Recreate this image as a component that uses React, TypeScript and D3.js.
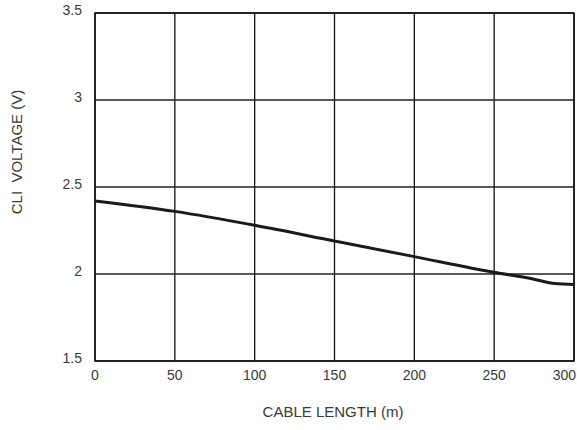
import * as d3 from 'd3';

const X_TICKS = [0, 50, 100, 150, 200, 250, 300];
const Y_TICKS = [1.5, 2, 2.5, 3, 3.5];
const LENGTH_M = [0, 50, 100, 150, 200, 250, 275, 288, 300];
const CLI_VOLTAGE = [2.42, 2.36, 2.28, 2.19, 2.1, 2.01, 1.97, 1.945, 1.94];

const WIDTH = 577;
const HEIGHT = 430;
const MARGIN = { top: 13, right: 3, bottom: 69, left: 95 };
const FONT = 'Liberation Sans, Arial, Helvetica, sans-serif';

export default function App() {
    const boundsWidth = WIDTH - MARGIN.left - MARGIN.right;
    const boundsHeight = HEIGHT - MARGIN.top - MARGIN.bottom;

    const xScale = d3.scaleLinear().domain([0, 300]).range([0, boundsWidth]);
    const yScale = d3.scaleLinear().domain([1.5, 3.5]).range([boundsHeight, 0]);

    const points: [number, number][] = LENGTH_M.map((x, i) => [x, CLI_VOLTAGE[i]]);
    const linePath = d3
        .line<[number, number]>()
        .x((d) => xScale(d[0]))
        .y((d) => yScale(d[1]))
        .curve(d3.curveMonotoneX)(points);

    const lastX = X_TICKS[X_TICKS.length - 1];

    return (
        <svg
            width={WIDTH}
            height={HEIGHT}
            style={{ position: 'absolute', left: 0, top: 0, background: '#fff' }}
            fontFamily={FONT}
        >
            <g transform={`translate(${MARGIN.left},${MARGIN.top})`}>
                {X_TICKS.map((t) => (
                    <line
                        key={'gx' + t}
                        x1={xScale(t)}
                        x2={xScale(t)}
                        y1={0}
                        y2={boundsHeight}
                        stroke="#111"
                        strokeWidth={1.3}
                    />
                ))}
                {Y_TICKS.map((t) => (
                    <line
                        key={'gy' + t}
                        x1={0}
                        x2={boundsWidth}
                        y1={yScale(t)}
                        y2={yScale(t)}
                        stroke="#222"
                        strokeWidth={1.3}
                    />
                ))}
                <rect
                    x={0}
                    y={0}
                    width={boundsWidth}
                    height={boundsHeight}
                    fill="none"
                    stroke="#111"
                    strokeWidth={1.5}
                />
                {linePath && (
                    <path d={linePath} fill="none" stroke="#1a1a1a" strokeWidth={3} />
                )}
                {X_TICKS.map((t) => (
                    <text
                        key={'tx' + t}
                        x={t === lastX ? xScale(t) + 2 : xScale(t)}
                        y={boundsHeight + 19}
                        textAnchor={t === lastX ? 'end' : 'middle'}
                        fontSize={14}
                        fill="#3a3a3a"
                    >
                        {t}
                    </text>
                ))}
                {Y_TICKS.map((t) => (
                    <text
                        key={'ty' + t}
                        x={-13}
                        y={yScale(t) + 2}
                        textAnchor="end"
                        fontSize={14}
                        fill="#3a3a3a"
                    >
                        {t}
                    </text>
                ))}
            </g>
            <text x={333} y={417} textAnchor="middle" fontSize={15} fill="#3a3a3a">
                CABLE LENGTH (m)
            </text>
            <text
                transform="translate(22,152) rotate(-90)"
                textAnchor="middle"
                fontSize={15}
                fill="#3a3a3a"
                style={{ whiteSpace: 'pre' }}
            >
                {'CLI  VOLTAGE (V)'}
            </text>
        </svg>
    );
}
